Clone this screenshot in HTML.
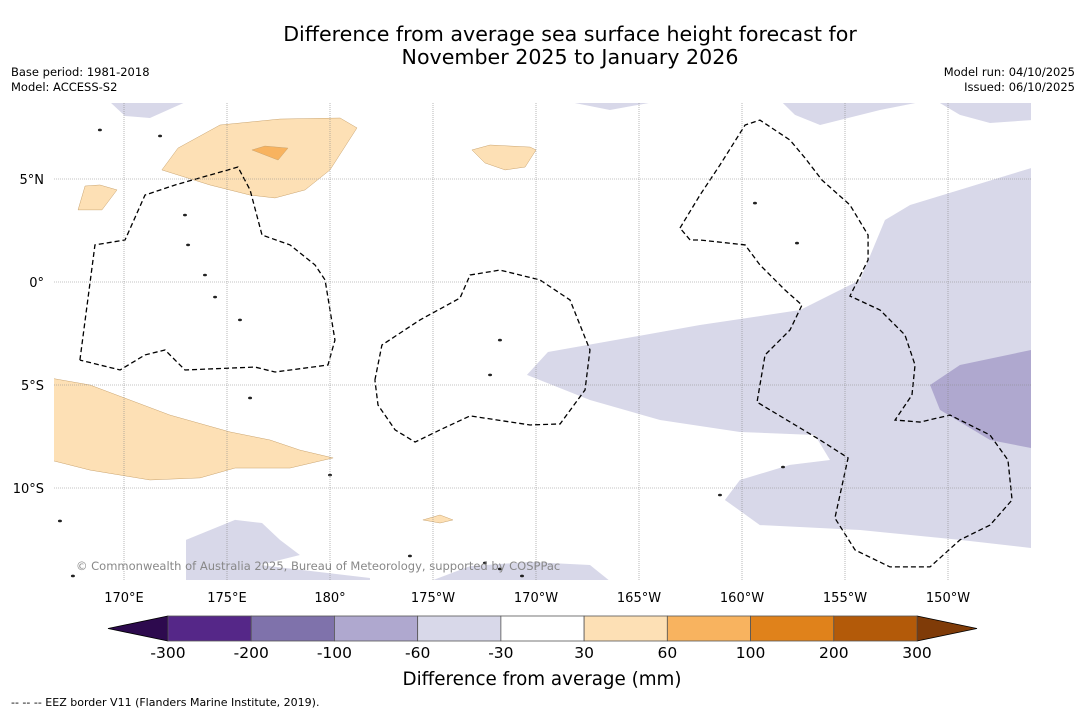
<!DOCTYPE html>
<html><head><meta charset="utf-8"><style>
body{margin:0;background:#fff;font-family:"Liberation Sans","DejaVu Sans",sans-serif;}
svg text{font-family:"DejaVu Sans","Liberation Sans",sans-serif;}
</style></head><body>
<svg id="map" width="1085" height="713" viewBox="0 0 1085 713">
<rect width="1085" height="713" fill="#fff"/>
<text x="570" y="41" text-anchor="middle" font-size="20.6">Difference from average sea surface height forecast for</text>
<text x="570" y="64" text-anchor="middle" font-size="20.6">November 2025 to January 2026</text>
<text x="11" y="76" font-size="11.5">Base period: 1981-2018</text>
<text x="11" y="91" font-size="11.5">Model: ACCESS-S2</text>
<text x="1075" y="76" font-size="11.5" text-anchor="end">Model run: 04/10/2025</text>
<text x="1075" y="91" font-size="11.5" text-anchor="end">Issued: 06/10/2025</text>
<defs><clipPath id="mc"><rect x="54" y="103" width="977" height="477"/></clipPath></defs>
<g id="plot" clip-path="url(#mc)"></g>
<g id="grid"></g>
<g id="axes"></g>
<text x="76" y="570" font-size="11.5" fill="#888">© Commonwealth of Australia 2025, Bureau of Meteorology, supported by COSPPac</text>
<g id="cbar"></g>
<text x="542" y="685" text-anchor="middle" font-size="18.3">Difference from average (mm)</text>
<text x="11" y="706" font-size="11">--  --  -- EEZ border V11 (Flanders Marine Institute, 2019).</text>
</svg>
<script>
const NS="http://www.w3.org/2000/svg";
const levels=[-300,-200,-100,-60,-30,30,60,100,200,300];
const colors=["#552788","#7f72ab","#afa8cf","#d8d8e9","#ffffff","#fde0b5","#f8b35f","#e0821b","#b35a09"];
const lonTicks=[170,175,180,185,190,195,200,205,210];
const lonLabels=["170°E","175°E","180°","175°W","170°W","165°W","160°W","155°W","150°W"];
const latTicks=[5,0,-5,-10];
const latLabels=["5°N","0°","5°S","10°S"];
const px2=(x,y)=>[+(170+(x-124)/20.6).toFixed(2),+((282-y)/20.6).toFixed(2)];
const regionsPx=[
[3,[[527,375],[548,352],[700,325],[800,310],[860,280],[885,220],[910,205],[1031,168],[1031,548],[960,540],[860,530],[760,525],[725,500],[740,480],[790,465],[830,460],[815,435],[740,432],[660,420],[590,400]]],
[3,[[108,100],[190,100],[150,118],[125,116]]],
[3,[[560,100],[665,100],[610,110]]],
[3,[[780,100],[930,100],[880,110],[820,125],[795,115]]],
[3,[[935,100],[1031,100],[1031,120],[990,123],[960,115]]],
[3,[[186,540],[235,520],[262,523],[280,540],[300,555],[260,565],[370,578],[370,585],[186,585]]],
[3,[[420,585],[470,566],[530,562],[590,565],[615,585]]],
[2,[[930,385],[960,365],[1031,350],[1031,448],[990,440],[940,410]]],
[5,[[162,170],[178,148],[220,125],[280,119],[340,118],[357,128],[330,170],[305,190],[275,198],[250,195],[210,185]]],
[6,[[252,150],[265,146],[288,148],[278,160]]],
[5,[[78,210],[85,186],[100,185],[117,190],[102,210]]],
[5,[[472,150],[490,145],[530,147],[536,150],[525,167],[505,170],[485,163]]],
[5,[[50,378],[90,385],[130,400],[170,415],[230,432],[270,440],[300,450],[333,458],[290,468],[235,468],[200,478],[150,480],[90,470],[50,460]]],
[5,[[423,520],[440,515],[453,520],[440,523]]]
];
const regions=regionsPx.map(([c,p])=>[c,p.map(q=>px2(q[0],q[1]))]);
const eezPx=[
[[80,360],[95,245],[125,240],[145,195],[175,185],[238,167],[250,190],[262,235],[290,245],[315,265],[325,280],[330,310],[335,340],[328,365],[275,372],[255,367],[185,370],[165,350],[145,355],[120,370],[80,360]],
[[375,380],[382,345],[420,320],[460,298],[470,275],[500,270],[540,280],[570,300],[590,350],[585,390],[560,424],[530,425],[470,416],[440,430],[415,442],[395,430],[378,405],[375,380]],
[[680,228],[700,195],[720,165],[745,125],[760,120],[790,140],[805,158],[822,180],[850,205],[868,235],[868,260],[850,296],[880,310],[905,335],[915,365],[912,395],[895,420],[920,422],[950,415],[990,435],[1008,460],[1012,500],[990,525],[960,540],[930,567],[890,567],[855,550],[835,518],[848,458],[820,440],[757,402],[765,355],[790,330],[802,305],[785,290],[760,265],[745,245],[700,240],[690,240],[680,228]]
];
const eez=eezPx.map(p=>p.map(q=>px2(q[0],q[1])));
const islandsPx=[[100,130],[160,136],[185,215],[188,245],[205,275],[215,297],[240,320],[250,398],[330,475],[500,340],[490,375],[755,203],[797,243],[783,467],[720,495],[60,521],[73,576],[410,556],[485,563],[500,569],[522,576]];
const islands=islandsPx.map(q=>px2(q[0],q[1]));
const X=lon=>124+(lon-170)*20.6, Y=lat=>282-lat*20.6;
function mk(tag,attrs,parent){const e=document.createElementNS(NS,tag);for(const k in attrs)e.setAttribute(k,attrs[k]);parent.appendChild(e);return e;}
const plot=document.getElementById('plot');
regions.forEach(([c,p],i)=>{
 const e=mk('polygon',{points:p.map(q=>X(q[0])+','+Y(q[1])).join(' '),fill:colors[c],stroke:c>=5?'#c9a36e':'none','stroke-width':0.5},plot);
 
 
});
islands.forEach(q=>{
 const e=mk('ellipse',{cx:X(q[0]),cy:Y(q[1]),rx:2,ry:1.3,fill:'#222'},plot);
 
 
});
eez.forEach(p=>{
 const e=mk('polyline',{points:p.map(q=>X(q[0])+','+Y(q[1])).join(' '),fill:'none',stroke:'#000','stroke-width':1.3,'stroke-dasharray':'5,3'},plot);
 
 
});
const grid=document.getElementById('grid'),axes=document.getElementById('axes');
lonTicks.forEach((l,i)=>{
 const g=mk('line',{x1:X(l),x2:X(l),y1:103,y2:580,stroke:'#888','stroke-width':0.6,'stroke-dasharray':'1,1'},grid);
 
 
 const t=mk('text',{x:X(l),y:602,'text-anchor':'middle','font-size':13},axes);t.textContent=lonLabels[i];
 
 
});
latTicks.forEach((l,i)=>{
 const g=mk('line',{x1:54,x2:1031,y1:Y(l),y2:Y(l),stroke:'#888','stroke-width':0.6,'stroke-dasharray':'1,1'},grid);
 
 
 const t=mk('text',{x:44,y:Y(l)+5,'text-anchor':'end','font-size':13},axes);t.textContent=latLabels[i];
 
 
});
const cb=document.getElementById('cbar');
const cx0=168,cx1=917,cy=616,ch=25,n=colors.length,w=(cx1-cx0)/n;
let a=mk('polygon',{points:`108,${cy+ch/2} ${cx0},${cy} ${cx0},${cy+ch}`,fill:'#2d0a4e',stroke:'#000','stroke-width':0.8},cb);


a=mk('polygon',{points:`977,${cy+ch/2} ${cx1},${cy} ${cx1},${cy+ch}`,fill:'#7f3b08',stroke:'#000','stroke-width':0.8},cb);


colors.forEach((c,i)=>{
 const r=mk('rect',{x:cx0+i*w,y:cy,width:w,height:ch,fill:c,stroke:'#555','stroke-width':0.8},cb);
 
 
});
levels.forEach((v,i)=>{
 const t=mk('text',{x:cx0+i*w,y:658,'text-anchor':'middle','font-size':15.5},cb);t.textContent=v;
 
 
});
</script>
</body></html>
